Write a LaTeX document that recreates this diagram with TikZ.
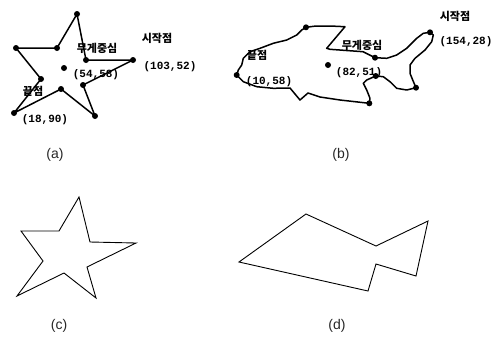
\documentclass[tikz,border=0pt]{standalone}
\usepackage{fontspec}
\setmainfont{Liberation Sans}
\newfontfamily\kofont{Noto Sans CJK KR}
\newfontfamily\numfont{Liberation Mono}
\tikzset{
  vdot/.style={circle,fill=black,inner sep=0pt,minimum size=6pt},
  ko/.style={font=\kofont\bfseries\fontsize{11}{12}\selectfont,inner sep=0pt},
  num/.style={font=\numfont\bfseries\fontsize{11}{12}\selectfont,inner sep=0pt},
  sublabel/.style={font=\fontsize{14}{16}\selectfont,text=black!85,inner sep=0pt},
  traced/.style={line width=1.5pt,line join=round,line cap=round},
  plainline/.style={line width=0.9pt,line join=miter},
}
\begin{document}
\begin{tikzpicture}[x=1pt,y=-1pt]
\useasboundingbox (0,0) rectangle (497,338);

% ---------- (a) traced star ----------
\coordinate (aT) at (77,14);
\coordinate (aITL) at (57,48);
\coordinate (aL) at (16,48);
\coordinate (aIL) at (41,79);
\coordinate (aBL) at (14,113);
\coordinate (aIB) at (61,89);
\coordinate (aBR) at (95,116);
\coordinate (aIRB) at (83,85);
\coordinate (aR) at (133,60);
\coordinate (aIRT) at (86,60);
\draw[traced] (aT) -- (aITL) -- (aL) -- (aIL) -- (aBL) -- (aIB) -- (aBR) -- (aIRB) -- (aR) -- (aIRT) -- cycle;
\foreach \p in {aT,aITL,aL,aIL,aBL,aIB,aBR,aIRB,aR,aIRT} \node[vdot] at (\p) {};
\node[vdot] (aC) at (64,68) {};
\node[ko] (aCk) at (97,48) {무게중심};
\node[num] (aCn) at (96,75) {(54,58)};
\node[ko] (aSk) at (157,38) {시작점};
\node[num] (aSn) at (170,67) {(103,52)};
\node[ko] (aEk) at (33,91) {끝점};
\node[num] (aEn) at (45,120) {(18,90)};

% ---------- (b) traced fish ----------
\draw[traced] (430,32.3) -- (423.3,33.3) -- (416.7,38.3) -- (406.7,48.3) -- (396.7,55)
  -- (386.7,58.3) -- (375,57.7) -- (363,51.7) -- (330,49.3) -- (326.7,48.3)
  -- (345,26.7) -- (330,26) -- (316,26) -- (306,27.3) -- (301.7,30) -- (296.7,35)
  -- (286.7,40) -- (273.3,43.3) -- (260,48.3) -- (250,51.7) -- (243.3,58.3)
  -- (241.7,65) -- (238.3,70) -- (236.7,75) -- (243.3,81.7) -- (256.7,86.7)
  -- (273.3,88.3) -- (290,88) -- (300,100) -- (308,93) -- (320,97) -- (340,100)
  -- (369.3,103.3) -- (370,98.3) -- (366.7,90) -- (363.3,83.3) -- (366.7,80)
  -- (375.7,76) -- (383.3,76.7) -- (390,81.7) -- (396.7,88.3) -- (406.7,90)
  -- (416,87.7) -- (412.7,80) -- (410,73.3) -- (410,65) -- (415,58.3) -- (425,50)
  -- (431.7,41.7) -- (433.3,35) -- cycle;
\foreach \q in {(430,32.3),(375,57.7),(306,27.3),(236.7,75),(369.3,103.3),(375.7,76),(416,87.7)}
  \node[vdot] at \q {};
\node[vdot] (bC) at (328,65) {};
\node[ko] (bCk) at (362,45) {무게중심};
\node[num] (bCn) at (359,73) {(82,51)};
\node[ko] (bSk) at (455,16) {시작점};
\node[num] (bSn) at (466,42) {(154,28)};
\node[ko] (bEk) at (257,55) {끝점};
\node[num] (bEn) at (269,82) {(10,58)};

% ---------- (c) polygon star ----------
\draw[plainline] (79,197) -- (90,242) -- (136,243) -- (87,267) -- (96,298) -- (64,273)
  -- (17,296) -- (43,261) -- (21,231) -- (59,231) -- cycle;

% ---------- (d) polygon fish ----------
\draw[plainline] (306,214) -- (376,246) -- (428,221) -- (416,276) -- (376,264)
  -- (368,291) -- (239,262) -- cycle;

% ---------- captions ----------
\node[sublabel] (capa) at (55,155) {(a)};
\node[sublabel] (capb) at (341,155) {(b)};
\node[sublabel] (capc) at (59,326) {(c)};
\node[sublabel] (capd) at (337,326) {(d)};
\end{tikzpicture}
\end{document}
